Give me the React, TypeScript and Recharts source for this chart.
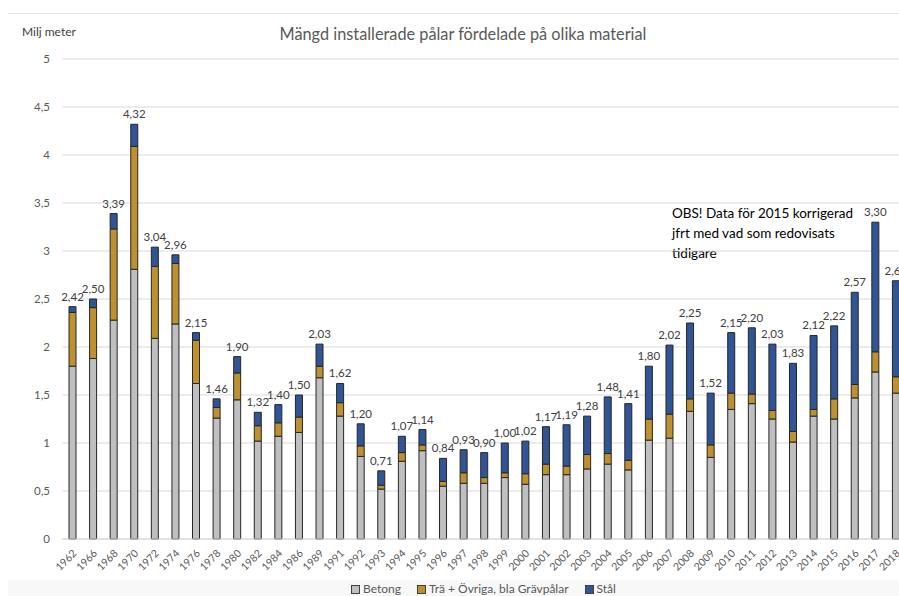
import React from "react";
import { BarChart, Bar, XAxis, YAxis, CartesianGrid, LabelList, Legend } from "recharts";

const years = ["1962","1966","1968","1970","1972","1974","1976","1978","1980","1982","1984","1986","1989","1991","1992","1993","1994","1995","1996","1997","1998","1999","2000","2001","2002","2003","2004","2005","2006","2007","2008","2009","2010","2011","2012","2013","2014","2015","2016","2017","2018"];
const betong = [1.80,1.88,2.28,2.81,2.09,2.24,1.62,1.26,1.45,1.02,1.07,1.11,1.68,1.28,0.86,0.52,0.81,0.92,0.55,0.58,0.58,0.64,0.57,0.67,0.67,0.73,0.78,0.72,1.03,1.05,1.33,0.85,1.35,1.41,1.25,1.01,1.28,1.25,1.47,1.74,1.52];
const tra = [0.56,0.53,0.95,1.28,0.75,0.63,0.45,0.11,0.28,0.16,0.14,0.16,0.12,0.14,0.11,0.04,0.09,0.06,0.05,0.11,0.06,0.05,0.11,0.11,0.09,0.15,0.11,0.10,0.22,0.25,0.13,0.13,0.17,0.10,0.09,0.11,0.07,0.21,0.14,0.21,0.17];
const stal = [0.06,0.09,0.16,0.23,0.20,0.09,0.08,0.09,0.17,0.14,0.19,0.23,0.23,0.20,0.23,0.15,0.17,0.16,0.24,0.24,0.26,0.31,0.34,0.39,0.43,0.40,0.59,0.59,0.55,0.72,0.79,0.54,0.63,0.69,0.69,0.71,0.77,0.76,0.96,1.35,1.00];
const totals = [2.42,2.50,3.39,4.32,3.04,2.96,2.15,1.46,1.90,1.32,1.40,1.50,2.03,1.62,1.20,0.71,1.07,1.14,0.84,0.93,0.90,1.00,1.02,1.17,1.19,1.28,1.48,1.41,1.80,2.02,2.25,1.52,2.15,2.20,2.03,1.83,2.12,2.22,2.57,3.30,2.69];
const yTicks = [0,0.5,1,1.5,2,2.5,3,3.5,4,4.5,5];

const seriesNames = ["Betong", "Trä + Övriga, bla Grävpålar", "Stål"];
const colors = ["#BFBFBF", "#BF9030", "#2F5597"];

const data = years.map((y, i) => ({ year: y, betong: betong[i], tra: tra[i], stal: stal[i], total: totals[i] }));

const FONT = "Lato, 'Open Sans', sans-serif";
const comma = (v: number) => String(v).replace(".", ",");

const XTick = (props: any) => {
  const { x, y, payload } = props;
  const ax = x + 5;
  const ay = y + 7;
  return (
    <text x={ax} y={ay} transform={`rotate(-45, ${ax}, ${ay})`} textAnchor="end" fontSize={10.5} fill="#595959" fontFamily={FONT}>
      {payload.value}
    </text>
  );
};

const LegendContent = () => (
  <div style={{ display: "flex", alignItems: "center", fontFamily: FONT, fontSize: 12, lineHeight: "14px", color: "#595959", whiteSpace: "nowrap" }}>
    {seriesNames.map((n, i) => (
      <div key={n} style={{ display: "flex", alignItems: "center", marginRight: 16 }}>
        <span style={{ display: "inline-block", width: 7, height: 7, background: colors[i], border: "1px solid #404040", marginRight: 3 }} />
        <span>{n}</span>
      </div>
    ))}
  </div>
);

export default function App() {
  return (
    <div style={{ position: "fixed", left: 0, top: 0, width: 899, height: 596, overflow: "hidden", background: "#fff" }}>
      <div style={{ position: "absolute", left: 8, right: 0, top: 13, height: 0, borderTop: "1px solid #e2e2e2" }} />
      <div style={{ position: "absolute", left: 8, right: 0, top: 580, bottom: 0, background: "#f8f8f8" }} />
      <div style={{ position: "absolute", left: 22, top: 24, fontFamily: FONT, fontSize: 12, color: "#404040" }}>Milj meter</div>
      <div style={{ position: "absolute", left: 0, width: 926, top: 24, textAlign: "center", fontFamily: FONT, fontSize: 16.3, color: "#595959" }}>
        Mängd installerade pålar fördelade på olika material
      </div>
      <div style={{ position: "absolute", left: 672, top: 203, fontFamily: FONT, fontSize: 13.5, lineHeight: "20px", color: "#000" }}>
        OBS! Data för 2015 korrigerad<br />jfrt med vad som redovisats<br />tidigare
      </div>
      <div style={{ position: "absolute", left: 0, top: 0 }}>
        <BarChart width={906} height={596} data={data} margin={{ top: 59, right: 0, bottom: 27, left: 0 }} barSize={7}>
          <CartesianGrid vertical={false} stroke="#d9d9d9" />
          <XAxis dataKey="year" interval={0} height={30} tickLine={false} axisLine={{ stroke: "#d9d9d9" }} tick={<XTick />} />
          <YAxis width={62} domain={[0, 5]} ticks={yTicks} tickFormatter={comma} axisLine={false} tickLine={false} tickSize={0} tickMargin={12}
            tick={{ fontSize: 11.5, fill: "#595959", fontFamily: FONT }} />
          <Legend layout="horizontal" verticalAlign="middle" align="center" content={<LegendContent />}
            wrapperStyle={{ top: 582, left: 351, width: 400, height: 14 }} />
          <Bar dataKey="betong" stackId="a" fill={colors[0]} stroke="#262626" strokeWidth={1} isAnimationActive={false} />
          <Bar dataKey="tra" stackId="a" fill={colors[1]} stroke="#262626" strokeWidth={1} isAnimationActive={false} />
          <Bar dataKey="stal" stackId="a" fill={colors[2]} stroke="#262626" strokeWidth={1} isAnimationActive={false}>
            <LabelList dataKey="total" position="top" offset={6} formatter={(v: any) => Number(v).toFixed(2).replace(".", ",")}
              style={{ fontSize: 11.5, fill: "#404040", fontFamily: FONT }} />
          </Bar>
        </BarChart>
      </div>
    </div>
  );
}
